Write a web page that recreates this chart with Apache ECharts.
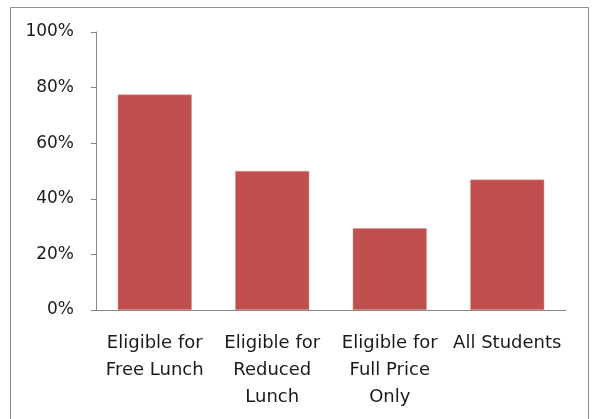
<!DOCTYPE html>
<html>
<head>
<meta charset="utf-8">
<script src="https://cdn.jsdelivr.net/npm/echarts@6/dist/echarts.min.js"></script>
<style>
  html, body { margin: 0; padding: 0; background: #fff; }
  #main { width: 593px; height: 419px; }
</style>
</head>
<body>
<div id="main"></div>
<script>
// 数据
var categories = ['Eligible for\nFree Lunch', 'Eligible for\nReduced\nLunch', 'Eligible for\nFull Price\nOnly', 'All Students'];
var values = [77.5, 50.0, 29.4, 46.9];
var yTicks = [0, 20, 40, 60, 80, 100];

(function () {
    var myChart = echarts.init(document.getElementById('main'));
    var option = {
        animation: false,
        textStyle: { fontFamily: 'DejaVu Sans' },
        // 外框
        graphic: [{
            type: 'rect',
            shape: { x: 10.5, y: 7.5, width: 578, height: 430 },
            style: { fill: 'none', stroke: '#8c8c8c', lineWidth: 1 },
            silent: true
        }],
        grid: {
            left: 96,
            right: 27,
            top: 32,
            bottom: 109
        },
        xAxis: {
            type: 'category',
            data: categories,
            axisLine: { lineStyle: { color: '#868686', width: 1 } },
            axisTick: { length: 5, lineStyle: { color: '#868686' } },
            axisLabel: {
                color: '#1a1a1a',
                fontSize: 18,
                lineHeight: 27,
                margin: 20,
                interval: 0
            }
        },
        yAxis: {
            type: 'value',
            min: yTicks[0],
            max: yTicks[yTicks.length - 1],
            interval: yTicks[1] - yTicks[0],
            axisLine: { show: true, lineStyle: { color: '#868686', width: 1 } },
            axisTick: { show: true, length: 5, lineStyle: { color: '#868686' } },
            splitLine: { show: false },
            axisLabel: {
                color: '#1a1a1a',
                fontSize: 17,
                margin: 22,
                formatter: '{value}%'
            }
        },
        series: [{
            type: 'bar',
            data: values,
            barWidth: '63%',
            itemStyle: {
                color: '#C0504D',
                borderColor: '#d99694',
                borderWidth: 0.5
            }
        }]
    };
    myChart.setOption(option);
})();
</script>
</body>
</html>
